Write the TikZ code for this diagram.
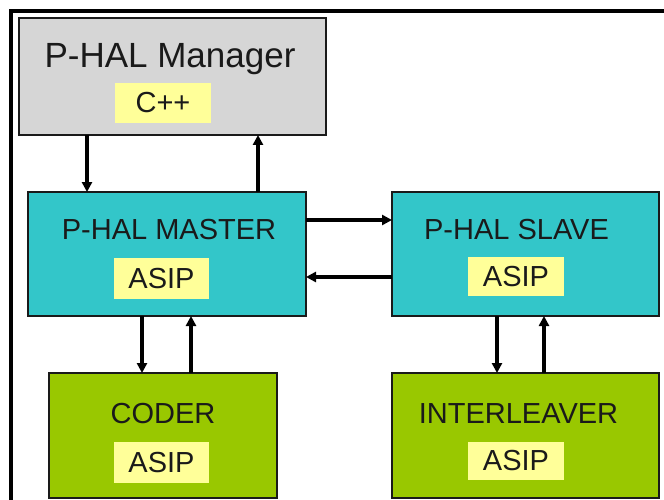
\documentclass[tikz,border=0pt]{standalone}
\usepackage{fontspec}
\setmainfont{Liberation Sans}
\usetikzlibrary{arrows.meta}
\definecolor{mgrgray}{HTML}{D6D6D6}
\definecolor{teal}{HTML}{33C6C9}
\definecolor{lime}{HTML}{99C800}
\definecolor{paleyellow}{HTML}{FFFF99}
\definecolor{ink}{HTML}{1A1A1A}
\tikzset{
  blk/.style={draw=ink, line width=1.3pt, inner sep=0pt, outer sep=0pt},
  ttl/.style={anchor=base, text=ink, inner sep=0pt, font=\fontsize{29}{30}\selectfont},
  bigttl/.style={anchor=base, text=ink, inner sep=0pt, font=\fontsize{35}{36}\selectfont},
  lbl/.style={fill=paleyellow, draw=none, inner sep=0pt, text=ink, font=\fontsize{29}{30}\selectfont},
  arr/.style={line width=3.2pt, draw=black, -{Triangle[length=10pt,width=10pt]}},
  frame/.style={line width=3.2pt, draw=black}
}
\begin{document}
\begin{tikzpicture}[x=1pt,y=-1pt]
\useasboundingbox (0,0) rectangle (664,500);
\fill[white] (0,0) rectangle (664,500);
\draw[frame] (664,11) -- (11,11) -- (11,501);

% boxes
\node[blk, fill=mgrgray, minimum width=307pt, minimum height=117pt] (mgr) at (172.5,76.5) {};
\node[blk, fill=teal, minimum width=278pt, minimum height=124pt] (master) at (167,254) {};
\node[blk, fill=teal, minimum width=267pt, minimum height=124pt] (slave) at (525.5,254) {};
\node[blk, fill=lime, minimum width=228pt, minimum height=125pt] (coder) at (163,435.5) {};
\node[blk, fill=lime, minimum width=267pt, minimum height=125pt] (inter) at (525.5,435.5) {};

% titles
\node[bigttl] (mgrT) at (170,68) {P-HAL Manager};
\node[ttl] (masterT) at (169,239) {P-HAL MASTER};
\node[ttl] (slaveT) at (516.5,239) {P-HAL SLAVE};
\node[ttl] (coderT) at (163,423) {CODER};
\node[ttl] (interT) at (518.5,423) {INTERLEAVER};

% yellow labels
\node[lbl, minimum width=96pt, minimum height=40pt] (mgrL) at (163,103) {C++};
\node[lbl, minimum width=95pt, minimum height=41pt] (masterL) at (161.5,278.5) {ASIP};
\node[lbl, minimum width=96pt, minimum height=39pt] (slaveL) at (516,276.5) {ASIP};
\node[lbl, minimum width=95pt, minimum height=41pt] (coderL) at (161.5,462.5) {ASIP};
\node[lbl, minimum width=96pt, minimum height=38pt] (interL) at (516,461) {ASIP};

% helper coordinates for connector positions
\coordinate (xa) at (87,0);
\coordinate (xb) at (258,0);
\coordinate (xc) at (142,0);
\coordinate (xd) at (191,0);
\coordinate (xe) at (497,0);
\coordinate (xf) at (544,0);
\coordinate (ya) at (0,220);
\coordinate (yb) at (0,277);

% connectors
\draw[arr] (mgr.south -| xa) -- (master.north -| xa);
\draw[arr] (master.north -| xb) -- (mgr.south -| xb);
\draw[arr] (master.east |- ya) -- (slave.west |- ya);
\draw[arr] (slave.west |- yb) -- (master.east |- yb);
\draw[arr] (master.south -| xc) -- (coder.north -| xc);
\draw[arr] (coder.north -| xd) -- (master.south -| xd);
\draw[arr] (slave.south -| xe) -- (inter.north -| xe);
\draw[arr] (inter.north -| xf) -- (slave.south -| xf);
\end{tikzpicture}
\end{document}
